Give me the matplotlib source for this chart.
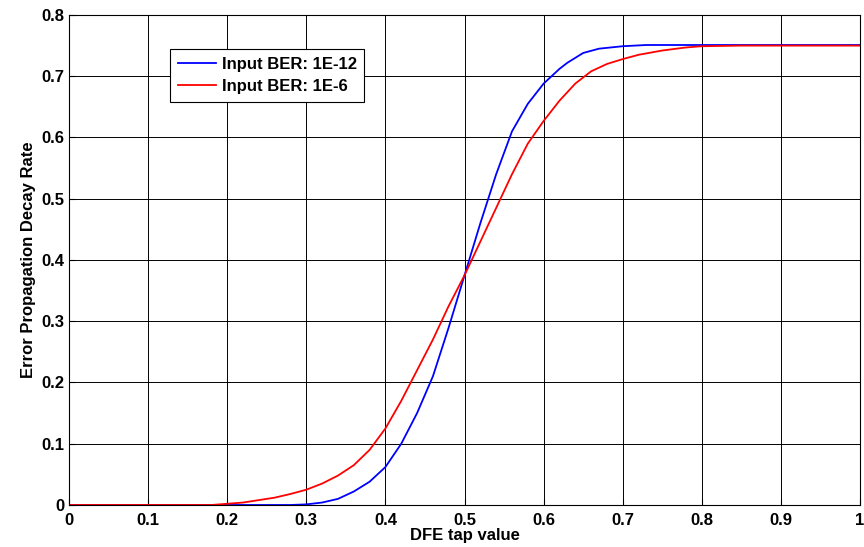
import matplotlib.pyplot as plt
import numpy as np

plt.rcParams['font.family'] = ['Liberation Sans', 'DejaVu Sans']
plt.rcParams['font.weight'] = 'bold'

# data
# Input BER 1E-12
x_blue = [0.0, 0.28, 0.30, 0.32, 0.34, 0.36, 0.38, 0.40, 0.42, 0.44, 0.46, 0.48,
          0.50, 0.52, 0.54, 0.56, 0.58, 0.60, 0.61, 0.62, 0.63, 0.65, 0.67, 0.70,
          0.73, 1.0]
y_blue = [0.0, 0.0, 0.001, 0.004, 0.010, 0.022, 0.038, 0.062, 0.100, 0.150, 0.210, 0.290,
          0.375, 0.460, 0.540, 0.610, 0.655, 0.688, 0.700, 0.712, 0.722, 0.738, 0.745, 0.749,
          0.751, 0.751]
# Input BER 1E-6
x_red = [0.0, 0.18, 0.20, 0.22, 0.24, 0.26, 0.28, 0.30, 0.32, 0.34, 0.36, 0.38,
         0.40, 0.42, 0.44, 0.46, 0.48, 0.50, 0.52, 0.54, 0.56, 0.58, 0.60, 0.62,
         0.64, 0.66, 0.68, 0.70, 0.72, 0.75, 0.78, 0.80, 0.85, 1.0]
y_red = [0.0, 0.0, 0.002, 0.004, 0.008, 0.012, 0.018, 0.025, 0.035, 0.048, 0.065, 0.090,
         0.125, 0.170, 0.220, 0.270, 0.325, 0.375, 0.430, 0.485, 0.540, 0.590, 0.627, 0.660,
         0.688, 0.708, 0.720, 0.728, 0.735, 0.742, 0.747, 0.749, 0.750, 0.750]

xticks = np.round(np.arange(0, 1.01, 0.1), 1)
xticklabels = ['0', '0.1', '0.2', '0.3', '0.4', '0.5', '0.6', '0.7', '0.8', '0.9', '1']
yticks = np.round(np.arange(0, 0.81, 0.1), 1)
yticklabels = ['0', '0.1', '0.2', '0.3', '0.4', '0.5', '0.6', '0.7', '0.8']

fig = plt.figure(figsize=(8.64, 5.47), dpi=100)
ax = fig.add_axes([0.0799, 0.0768, 0.9155, 0.8958])

ax.plot(x_blue, y_blue, color='blue', lw=1.3, label='Input BER: 1E-12')
ax.plot(x_red, y_red, color='red', lw=1.3, label='Input BER: 1E-6')

ax.set_xlim(0, 1)
ax.set_ylim(0, 0.8)
ax.set_xticks(xticks)
ax.set_xticklabels(xticklabels)
ax.set_yticks(yticks)
ax.set_yticklabels(yticklabels)
ax.tick_params(direction='in', length=4, width=0.8, labelsize=12)
ax.tick_params(axis='x', pad=6)
ax.tick_params(axis='y', pad=3)
ax.grid(True, color='black', lw=0.7)
for s in ax.spines.values():
    s.set_linewidth(0.8)

ax.set_xlabel('DFE tap value', fontsize=12, fontweight='bold', labelpad=0)
ax.set_ylabel('Error Propagation Decay Rate', fontsize=12, fontweight='bold', labelpad=4)

leg = ax.legend(loc='upper left', bbox_to_anchor=(0.128, 0.93), fontsize=12,
                fancybox=False, framealpha=1, edgecolor='black', borderaxespad=0,
                handlelength=2.3, handletextpad=0.35, borderpad=0.45, labelspacing=0.45)
leg.get_frame().set_linewidth(0.8)

fig.savefig('out.png', dpi=100)
